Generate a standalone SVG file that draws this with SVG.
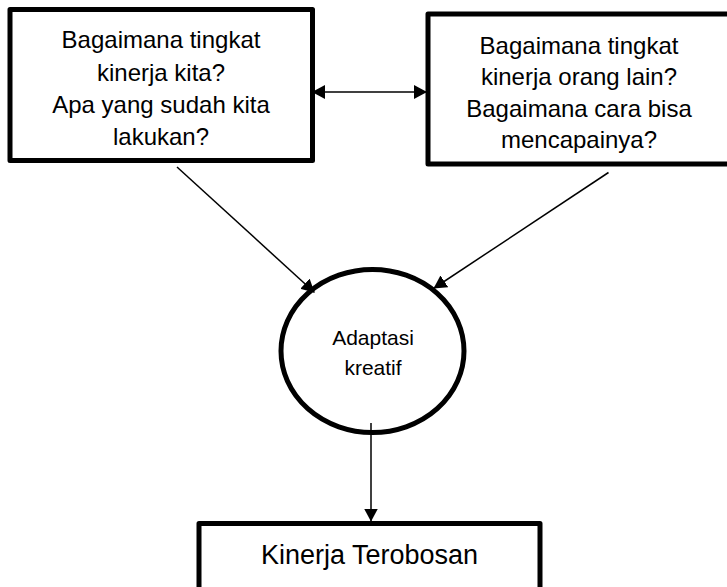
<svg xmlns="http://www.w3.org/2000/svg" width="727" height="587" viewBox="0 0 727 587">
<style>
.box{fill:#fff;stroke:#000;stroke-width:5;stroke-linejoin:round}
.t{font-family:"Liberation Sans",Arial,sans-serif;font-size:24px;fill:#000;text-anchor:middle}
.tc{font-family:"Liberation Sans",Arial,sans-serif;font-size:21px;fill:#000;text-anchor:middle}
.tb{font-family:"Liberation Sans",Arial,sans-serif;font-size:27px;fill:#000;text-anchor:middle}
.c{fill:none;stroke:#000;stroke-width:1.5}
</style>
<defs>
<marker id="ah" viewBox="0 0 13 14" refX="13" refY="7" markerWidth="13" markerHeight="14" markerUnits="userSpaceOnUse" orient="auto-start-reverse">
<path d="M0,0 L13,7 L0,14 z" fill="#000"/>
</marker>
</defs>
<rect width="727" height="587" fill="#fff"/>
<g id="node-kita">
<rect class="box" x="10" y="9.5" width="302.5" height="151"/>
<text class="t" x="161" y="48">Bagaimana tingkat</text>
<text class="t" x="161" y="80.5">kinerja kita?</text>
<text class="t" x="161" y="112.5">Apa yang sudah kita</text>
<text class="t" x="161" y="145">lakukan?</text>
</g>
<g id="node-lain">
<rect class="box" x="428" y="14" width="302" height="150"/>
<text class="t" x="579" y="53.5">Bagaimana tingkat</text>
<text class="t" x="579" y="85">kinerja orang lain?</text>
<text class="t" x="579" y="116.5">Bagaimana cara bisa</text>
<text class="t" x="579" y="148">mencapainya?</text>
</g>
<g id="node-adaptasi">
<ellipse cx="372.5" cy="351" rx="91.5" ry="81.5" fill="#fff" stroke="#000" stroke-width="5"/>
<text class="tc" x="373" y="345">Adaptasi</text>
<text class="tc" x="373" y="375">kreatif</text>
</g>
<g id="node-terobosan">
<rect class="box" x="199" y="523.5" width="341" height="100"/>
<text class="tb" x="369.5" y="563.5">Kinerja Terobosan</text>
</g>
<g id="connectors">
<line class="c" x1="312" y1="92" x2="427" y2="92" marker-start="url(#ah)" marker-end="url(#ah)"/>
<line class="c" x1="177" y1="167" x2="314.5" y2="292.5" marker-end="url(#ah)"/>
<line class="c" x1="608.5" y1="172.5" x2="433.5" y2="288.5" marker-end="url(#ah)"/>
<line class="c" x1="371" y1="423" x2="371" y2="521.5" marker-end="url(#ah)"/>
</g>
</svg>
